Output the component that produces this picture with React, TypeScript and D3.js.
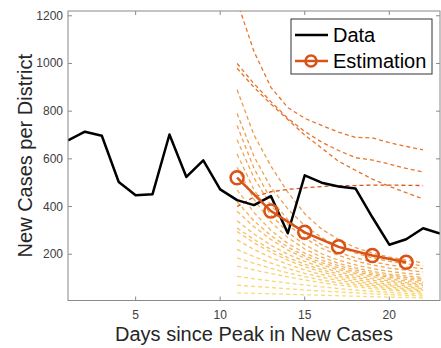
import { useEffect, useRef } from "react";
import * as d3 from "d3";

// observed new cases, days 1..23
const dataDays = d3.range(1, 24);
const dataCases = [677, 714, 697, 503, 447, 452, 702, 524, 594, 472, 427, 406, 444, 288, 531, 500, 484, 476, 355, 240, 263, 309, 287];

// estimation (mean) at every other day
const estDays = [11, 13, 15, 17, 19, 21];
const estCases = [521, 381, 292, 231, 195, 166];

// sampled trajectories, days 11..22
const simDays = d3.range(11, 23);
const simUpper = [
  [1260, 1050, 900, 815, 770, 740, 712, 690, 688, 668, 652, 638],
  [1000, 915, 840, 770, 715, 670, 635, 605, 595, 578, 560, 545],
  [980, 900, 830, 765, 700, 645, 590, 552, 515, 485, 458, 432],
];
const simFlat = [400, 440, 462, 472, 478, 484, 488, 488, 490, 490, 489, 488];
const simLower = [
  [890, 700, 570, 460, 370, 305, 262, 228, 205, 188, 175, 164],
  [790, 610, 480, 390, 320, 270, 232, 205, 185, 170, 160, 152],
  [740, 560, 430, 345, 285, 240, 208, 185, 168, 155, 146, 140],
  [680, 520, 405, 325, 268, 225, 195, 172, 155, 142, 133, 126],
  [620, 470, 365, 292, 240, 202, 175, 155, 140, 128, 120, 114],
  [565, 430, 335, 270, 222, 188, 162, 143, 128, 117, 109, 103],
  [470, 375, 300, 245, 205, 175, 152, 134, 120, 110, 102, 96],
  [420, 340, 278, 230, 193, 165, 143, 126, 113, 103, 95, 89],
  [380, 315, 262, 218, 183, 156, 135, 119, 106, 96, 88, 82],
  [340, 285, 238, 200, 170, 145, 126, 110, 98, 89, 81, 75],
  [310, 262, 220, 186, 158, 135, 117, 102, 91, 82, 75, 69],
  [295, 248, 208, 175, 148, 126, 108, 94, 83, 74, 67, 62],
  [260, 220, 186, 158, 134, 115, 99, 86, 76, 68, 61, 56],
  [220, 190, 163, 140, 120, 104, 90, 79, 70, 62, 56, 51],
  [185, 162, 141, 122, 106, 92, 80, 71, 63, 56, 50, 46],
  [150, 134, 119, 105, 92, 81, 71, 63, 56, 50, 45, 41],
  [107, 97, 88, 79, 71, 63, 56, 50, 45, 40, 36, 33],
  [70, 65, 60, 55, 50, 46, 42, 38, 34, 31, 28, 25],
  [38, 36, 34, 32, 30, 28, 26, 24, 22, 20, 19, 17],
];

const xTicks = [5, 10, 15, 20];
const yTicks = [200, 400, 600, 800, 1000, 1200];

export default function App() {
  const ref = useRef<SVGSVGElement>(null);

  useEffect(() => {
    const width = 441, height = 348;
    const left = 68, right = 440, top = 11, bottom = 300.5;
    const font = "'Liberation Sans', Arial, sans-serif";
    const orange = "#d95319";

    const svg = d3.select(ref.current).attr("width", width).attr("height", height);
    svg.selectAll("*").remove();

    const x = d3.scaleLinear().domain([1, 23]).range([left, right]);
    const y = d3.scaleLinear().domain([6, 1220]).range([bottom, top]);

    svg.append("rect").attr("width", width).attr("height", height).attr("fill", "white");

    svg.append("clipPath").attr("id", "plotclip")
      .append("rect").attr("x", left).attr("y", top).attr("width", right - left).attr("height", bottom - top);

    const plot = svg.append("g").attr("clip-path", "url(#plotclip)");

    const line = d3.line<number>()
      .x((_, i) => x(simDays[i]))
      .y(d => y(d));

    // lower (yellow) trajectories
    const yellow = d3.interpolateRgb("#f7d860", "#ea8a2e");
    plot.selectAll(".low")
      .data(simLower)
      .enter()
      .append("path")
      .attr("d", d => line(d))
      .attr("fill", "none")
      .attr("stroke", (_, i) => yellow(1 - i / (simLower.length - 1)))
      .attr("stroke-width", 1.3)
      .attr("stroke-dasharray", "4,3")
      .attr("opacity", 0.85);

    plot.selectAll(".up")
      .data(simUpper)
      .enter()
      .append("path")
      .attr("d", d => line(d))
      .attr("fill", "none")
      .attr("stroke", "#e8742c")
      .attr("stroke-width", 1.3)
      .attr("stroke-dasharray", "4,3");

    plot.append("path")
      .attr("d", line(simFlat))
      .attr("fill", "none")
      .attr("stroke", orange)
      .attr("stroke-width", 1.3)
      .attr("stroke-dasharray", "4,3");

    // data line
    const dataLine = d3.line<number>()
      .x((_, i) => x(dataDays[i]))
      .y(d => y(d));
    plot.append("path")
      .attr("d", dataLine(dataCases))
      .attr("fill", "none")
      .attr("stroke", "black")
      .attr("stroke-width", 2.5)
      .attr("stroke-linejoin", "round");

    // estimation
    const estLine = d3.line<number>()
      .x((_, i) => x(estDays[i]))
      .y(d => y(d));
    plot.append("path")
      .attr("d", estLine(estCases))
      .attr("fill", "none")
      .attr("stroke", orange)
      .attr("stroke-width", 2.5);
    plot.selectAll(".est")
      .data(estCases)
      .enter()
      .append("circle")
      .attr("cx", (_, i) => x(estDays[i]))
      .attr("cy", d => y(d))
      .attr("r", 6.5)
      .attr("fill", "none")
      .attr("stroke", orange)
      .attr("stroke-width", 2.5);

    // axes box
    const axisColor = "#8a8a8a";
    svg.append("rect")
      .attr("x", left).attr("y", top)
      .attr("width", right - left).attr("height", bottom - top)
      .attr("fill", "none").attr("stroke", axisColor).attr("stroke-width", 1);

    const tickLen = 4;
    xTicks.forEach(t => {
      svg.append("line").attr("x1", x(t)).attr("x2", x(t)).attr("y1", bottom).attr("y2", bottom - tickLen).attr("stroke", axisColor);
      svg.append("line").attr("x1", x(t)).attr("x2", x(t)).attr("y1", top).attr("y2", top + tickLen).attr("stroke", axisColor);
    });
    yTicks.forEach(t => {
      svg.append("line").attr("x1", left).attr("x2", left + tickLen).attr("y1", y(t)).attr("y2", y(t)).attr("stroke", axisColor);
      svg.append("line").attr("x1", right).attr("x2", right - tickLen).attr("y1", y(t)).attr("y2", y(t)).attr("stroke", axisColor);
    });

    svg.selectAll(".xt")
      .data(xTicks)
      .enter()
      .append("text")
      .attr("x", d => x(d))
      .attr("y", bottom + 18)
      .attr("text-anchor", "middle")
      .attr("font-family", font)
      .attr("font-size", "12px")
      .attr("fill", "#404040")
      .text(d => d);

    svg.selectAll(".yt")
      .data(yTicks)
      .enter()
      .append("text")
      .attr("x", left - 5)
      .attr("y", d => y(d) + 4)
      .attr("text-anchor", "end")
      .attr("font-family", font)
      .attr("font-size", "12px")
      .attr("fill", "#404040")
      .text(d => d);

    // axis titles
    svg.append("text")
      .attr("x", (left + right) / 2)
      .attr("y", 341)
      .attr("text-anchor", "middle")
      .attr("font-family", font)
      .attr("font-size", "20px")
      .attr("fill", "#262626")
      .text("Days since Peak in New Cases");

    svg.append("text")
      .attr("transform", `translate(32,${(top + bottom) / 2}) rotate(-90)`)
      .attr("text-anchor", "middle")
      .attr("font-family", font)
      .attr("font-size", "20px")
      .attr("fill", "#262626")
      .text("New Cases per District");

    // legend
    const lg = svg.append("g");
    lg.append("rect")
      .attr("x", 291).attr("y", 19).attr("width", 141).attr("height", 55)
      .attr("fill", "white").attr("stroke", "#333").attr("stroke-width", 1);
    lg.append("line").attr("x1", 295).attr("x2", 328).attr("y1", 35).attr("y2", 35)
      .attr("stroke", "black").attr("stroke-width", 2.5);
    lg.append("text").attr("x", 333).attr("y", 42)
      .attr("font-family", font).attr("font-size", "20px").attr("fill", "black").text("Data");
    lg.append("line").attr("x1", 295).attr("x2", 328).attr("y1", 61).attr("y2", 61)
      .attr("stroke", orange).attr("stroke-width", 2.5);
    lg.append("circle").attr("cx", 311).attr("cy", 61).attr("r", 5.5)
      .attr("fill", "none").attr("stroke", orange).attr("stroke-width", 2.5);
    lg.append("text").attr("x", 333).attr("y", 68)
      .attr("font-family", font).attr("font-size", "20px").attr("fill", "black").text("Estimation");
  }, []);

  return <svg ref={ref} style={{ position: "absolute", left: 0, top: 0 }}></svg>;
}
